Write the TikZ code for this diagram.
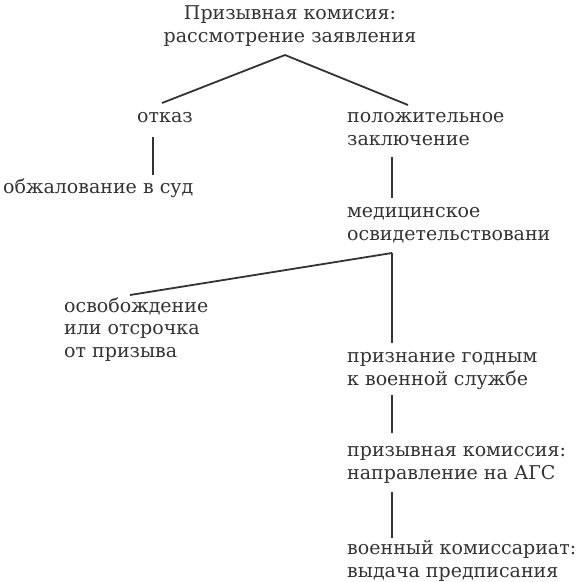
\documentclass[tikz,border=0pt]{standalone}
\usepackage{fontspec}
\setmainfont{DejaVu Serif}
\usetikzlibrary{calc}

\begin{document}
\begin{tikzpicture}[
        x=1pt, y=-1pt,
        branch/.style={line width=1.8pt, color=black!80},
        label/.style={anchor=base west, inner sep=0pt, align=left, text=black!80,
                      font=\fontsize{19}{22.5}\selectfont},
        every node/.style={color=black!80}]

    \useasboundingbox (0,0) rectangle (581,582);

    % title and first split
    \node[label, anchor=base, align=center] (title) at (290,42) {Призывная комисия:\\рассмотрение заявления};
    \coordinate (apex) at (285,55);
    \node[label] (otkaz) at (137,122) {отказ};
    \node[label] (sud) at (3,193) {обжалование в суд};
    \node[label] (positive) at (347,145) {положительное\\заключение};

    \draw[branch] (apex) -- ([shift={(25,-19)}]otkaz.base west);
    \draw[branch] (apex) -- ([shift={(61,-40)}]positive.base west);
    \draw[branch] ([shift={(16,15)}]otkaz.base west) -- ([shift={(150,-18)}]sud.base west);

    % medical
    \node[label] (medical) at (347,240) {медицинское\\освидетельствовани};
    \draw[branch] ([shift={(45,12)}]positive.base west) -- ([shift={(45,-42)}]medical.base west);
    \coordinate (fork) at ([shift={(45,13)}]medical.base west);

    \node[label] (release) at (64,357) {освобождение\\или отсрочка\\от призыва};
    \node[label] (fit) at (347,385) {признание годным\\к военной службе};
    \draw[branch] (fork) -- ([shift={(66,-62)}]release.base west);
    \draw[branch] (fork) -- ([shift={(45,-42)}]fit.base west);

    % alternative service
    \node[label] (ags) at (347,479) {призывная комиссия:\\направление на АГС};
    \node[label] (order) at (347,577) {военный комиссариат:\\выдача предписания};
    \draw[branch] ([shift={(45,10)}]fit.base west) -- ([shift={(45,-46)}]ags.base west);
    \draw[branch] ([shift={(45,13)}]ags.base west) -- ([shift={(45,-39)}]order.base west);
\end{tikzpicture}
\end{document}
